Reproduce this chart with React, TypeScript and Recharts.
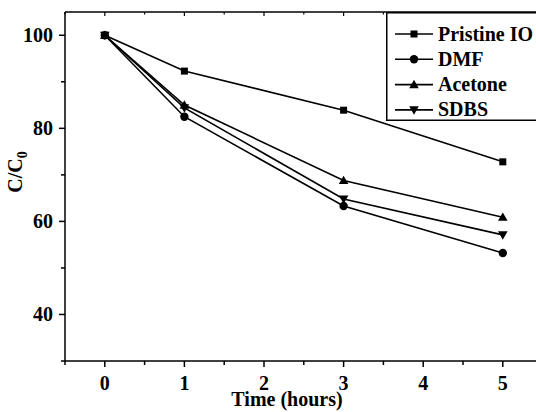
import { LineChart, Line, XAxis, YAxis, Legend } from "recharts";

const times = [0, 1, 3, 5];
const pristine = [100, 92.3, 83.9, 72.8];
const dmf = [100, 82.5, 63.3, 53.2];
const acetone = [100, 85.0, 68.8, 60.9];
const sdbs = [100, 84.4, 64.8, 57.1];

const xTicks = [-0.5, 0, 0.5, 1, 1.5, 2, 2.5, 3, 3.5, 4, 4.5, 5, 5.5];
const yTicks = [30, 40, 50, 60, 70, 80, 90, 100];

const series = [
  { key: "pristine", name: "Pristine IO", shape: "square" },
  { key: "dmf", name: "DMF", shape: "circle" },
  { key: "acetone", name: "Acetone", shape: "up" },
  { key: "sdbs", name: "SDBS", shape: "down" },
];

const data = times.map((t, i) => ({
  t,
  pristine: pristine[i],
  dmf: dmf[i],
  acetone: acetone[i],
  sdbs: sdbs[i],
}));

const FONT = '"Liberation Serif", "Times New Roman", serif';

function T({ x, y, anchor = "start", rotate = 0, children }: any) {
  return (
    <text
      transform={`translate(${x},${y}) rotate(${rotate})`}
      textAnchor={anchor}
      fontFamily={FONT}
      fontWeight="bold"
      fontSize={20}
      fill="#000"
    >
      {children}
    </text>
  );
}

function Marker({ shape, cx, cy }: { shape: string; cx: number; cy: number }) {
  if (shape === "square")
    return <rect x={cx - 3.5} y={cy - 3.5} width={7} height={7} fill="#000" />;
  if (shape === "circle") return <circle cx={cx} cy={cy} r={4.2} fill="#000" />;
  if (shape === "up")
    return (
      <polygon
        points={`${cx},${cy - 4.8} ${cx + 4.8},${cy + 3.6} ${cx - 4.8},${cy + 3.6}`}
        fill="#000"
      />
    );
  return (
    <polygon
      points={`${cx},${cy + 4.8} ${cx + 4.8},${cy - 3.6} ${cx - 4.8},${cy - 3.6}`}
      fill="#000"
    />
  );
}

function XTick(props: any) {
  const { x, y, payload } = props;
  const major = Number.isInteger(payload.value);
  return (
    <g>
      <line x1={x} x2={x} y1={y} y2={y + (major ? 6 : 4)} stroke="#000" strokeWidth={1.5} />
      {major && (
        <T x={x} y={y + 28.5} anchor="middle">
          {payload.value}
        </T>
      )}
    </g>
  );
}

function TopTick(props: any) {
  const { x, y, payload } = props;
  const major = Number.isInteger(payload.value);
  return <line x1={x} x2={x} y1={y} y2={y + (major ? 4 : 2.5)} stroke="#000" strokeWidth={1.2} />;
}

function YTick(props: any) {
  const { x, y, payload } = props;
  const major = payload.value % 20 === 0;
  return (
    <g>
      <line x1={x - (major ? 6 : 4)} x2={x} y1={y} y2={y} stroke="#000" strokeWidth={1.5} />
      {major && (
        <T x={x - 12} y={y + 6.5} anchor="end">
          {payload.value}
        </T>
      )}
    </g>
  );
}

function LegendBox() {
  return (
    <svg width={150} height={109} style={{ display: "block" }}>
      <rect x={0.75} y={0.75} width={170} height={107.5} fill="#fff" stroke="#000" strokeWidth={1.5} />
      {series.map((s, i) => {
        const cy = 22 + i * 25.3;
        return (
          <g key={s.key}>
            <line x1={9} x2={47} y1={cy} y2={cy} stroke="#000" strokeWidth={1.6} />
            <Marker shape={s.shape} cx={28} cy={cy} />
            <T x={52} y={cy + 6.5}>
              {s.name}
            </T>
          </g>
        );
      })}
    </svg>
  );
}

export default function App() {
  return (
    <div
      style={{
        position: "fixed",
        left: 0,
        top: 0,
        width: 536,
        height: 412,
        overflow: "hidden",
        background: "#fff",
      }}
    >
      <LineChart width={560} height={412} data={data} margin={{ top: 0, right: 17.4, bottom: 0, left: 0 }}>
        <XAxis
          xAxisId="top"
          orientation="top"
          type="number"
          dataKey="t"
          domain={[-0.5, 5.5]}
          ticks={xTicks}
          height={12}
          tickSize={0}
          tickMargin={0}
          tick={<TopTick />}
          axisLine={{ stroke: "#000", strokeWidth: 1.5 }}
          tickLine={false}
        />
        <XAxis
          type="number"
          dataKey="t"
          domain={[-0.5, 5.5]}
          ticks={xTicks}
          height={51}
          tickSize={0}
          tickMargin={0}
          tick={<XTick />}
          tickLine={false}
          axisLine={{ stroke: "#000", strokeWidth: 1.5 }}
          label={{
            content: () => (
              <T x={287} y={406} anchor="middle">
                Time (hours)
              </T>
            ),
          }}
        />
        <YAxis
          type="number"
          domain={[30, 105]}
          ticks={yTicks}
          width={65}
          tickSize={0}
          tickMargin={0}
          tick={<YTick />}
          tickLine={false}
          axisLine={{ stroke: "#000", strokeWidth: 1.5 }}
          label={{
            content: () => (
              <T x={22} y={172} anchor="middle" rotate={-90}>
                C/C
                <tspan dy={5} fontSize={14}>
                  0
                </tspan>
              </T>
            ),
          }}
        />
        <Legend
          layout="horizontal"
          verticalAlign="middle"
          align="center"
          content={() => <LegendBox />}
          wrapperStyle={{ position: "absolute", left: 386, top: 12, width: 150, height: 109 }}
        />
        {series.map((s) => (
          <Line
            key={s.key}
            type="linear"
            dataKey={s.key}
            name={s.name}
            stroke="#000"
            strokeWidth={1.6}
            isAnimationActive={false}
            dot={(p: any) => <Marker key={`${s.key}-${p.index}`} shape={s.shape} cx={p.cx} cy={p.cy} />}
            activeDot={false}
          />
        ))}
      </LineChart>
    </div>
  );
}
